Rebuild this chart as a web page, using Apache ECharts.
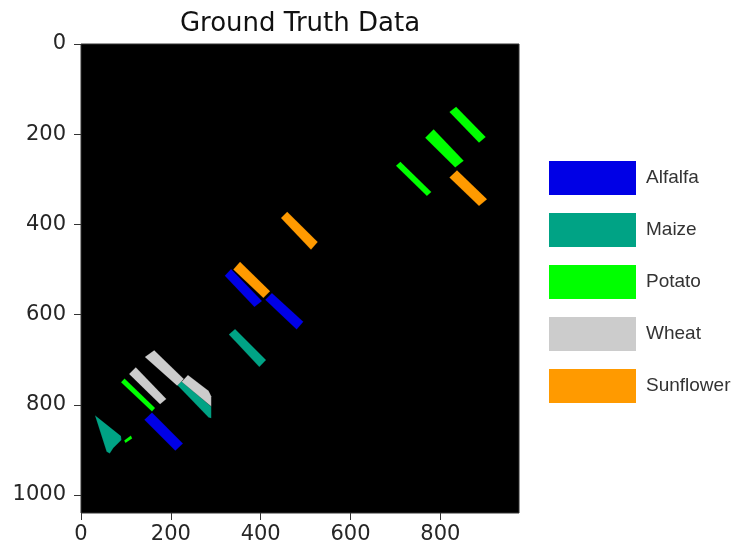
<!DOCTYPE html>
<html>
<head>
<meta charset="utf-8">
<script src="https://cdn.jsdelivr.net/npm/echarts@6/dist/echarts.min.js"></script>
<style>
  html, body { margin: 0; padding: 0; background: #fff; }
</style>
</head>
<body>
<div id="chart" style="width: 737px; height: 550px"></div>
<script>
// class names and colours
const classNames = ['Alfalfa', 'Maize', 'Potato', 'Wheat', 'Sunflower']
const classColors = ['#0000e6', '#00a385', '#00ff00', '#cccccc', '#ff9a00']

// field outlines, pixel coords [col, row] of the label image
const alfalfaFields = [
  [[320, 514], [334, 499], [403, 570], [386, 583]],
  [[410, 567], [425, 552], [495, 616], [480, 633]],
  [[141, 833], [158, 817], [227, 886], [210, 902]]
]
const maizeFields = [
  [[329, 644], [343, 632], [412, 701], [397, 716]],
  [[213, 755], [224, 746], [290, 804], [290, 830], [284, 828]],
  [[31, 823], [89, 869], [90, 878], [72, 896], [64, 908], [57, 904]]
]
const potatoFields = [
  [[820, 151], [835, 139], [901, 206], [886, 219]],
  [[766, 208], [785, 189], [852, 259], [833, 274]],
  [[701, 270], [711, 261], [780, 328], [770, 337]],
  [[89, 750], [97, 742], [165, 807], [158, 815]],
  [[96, 879], [99, 885], [114, 875], [111, 868]]
]
const wheatFields = [
  [[142, 694], [163, 679], [229, 743], [214, 758]],
  [[107, 732], [122, 717], [190, 787], [176, 799]],
  [[224, 749], [238, 734], [284, 769], [290, 781], [290, 804]]
]
const sunflowerFields = [
  [[820, 296], [837, 280], [904, 344], [886, 359]],
  [[445, 386], [459, 372], [527, 439], [512, 456]],
  [[339, 500], [354, 483], [421, 548], [406, 563]]
]

// image size and tick labels
const imageWidth = 975
const imageHeight = 1040
const xTicks = [0, 200, 400, 600, 800]
const yTicks = [0, 200, 400, 600, 800, 1000]

const allFields = [alfalfaFields, maizeFields, potatoFields, wheatFields, sunflowerFields]

const chart = echarts.init(document.getElementById('chart'))

const axisFont = {
  fontFamily: 'DejaVu Sans',
  fontSize: 21,
  color: '#262626',
  formatter: v => String(v)
}

const fieldSeries = (fields, i) => ({
  name: classNames[i],
  type: 'custom',
  coordinateSystem: 'cartesian2d',
  itemStyle: { color: classColors[i] },
  renderItem: (params, api) => {
    const pts = fields[params.dataIndex].map(p => api.coord(p))
    return {
      type: 'polygon',
      shape: { points: pts },
      style: {
        fill: classColors[i],
        stroke: 'rgba(0,0,0,0.25)',
        lineWidth: 0.6
      }
    }
  },
  data: fields.map(f => f[0])
})

const option = {
  animation: false,
  backgroundColor: '#fff',
  title: {
    text: 'Ground Truth Data',
    left: 295,
    top: 6,
    textAlign: 'center',
    textStyle: {
      fontFamily: 'DejaVu Sans',
      fontWeight: 'normal',
      fontSize: 26,
      color: '#111'
    }
  },
  grid: {
    left: 81,
    top: 44,
    width: 438,
    height: 469,
    show: true,
    backgroundColor: '#000',
    borderColor: '#333',
    borderWidth: 1
  },
  xAxis: {
    type: 'value',
    min: 0,
    max: imageWidth,
    position: 'bottom',
    splitLine: { show: false },
    axisLine: { show: false, onZero: false },
    axisTick: {
      show: true,
      length: 7,
      customValues: xTicks,
      lineStyle: { color: '#333' }
    },
    axisLabel: {
      ...axisFont,
      margin: 11,
      customValues: xTicks
    }
  },
  yAxis: {
    type: 'value',
    min: 0,
    max: imageHeight,
    inverse: true,
    splitLine: { show: false },
    axisLine: { show: false, onZero: false },
    axisTick: {
      show: true,
      length: 7,
      customValues: yTicks,
      lineStyle: { color: '#333' }
    },
    axisLabel: {
      ...axisFont,
      margin: 15,
      customValues: yTicks
    }
  },
  legend: {
    orient: 'vertical',
    left: 544,
    top: 156,
    icon: 'rect',
    itemWidth: 87,
    itemHeight: 34,
    itemGap: 18,
    data: classNames,
    textStyle: {
      fontFamily: 'Liberation Sans',
      fontSize: 19,
      color: '#333',
      padding: [0, 0, 0, 5]
    }
  },
  series: allFields.map(fieldSeries)
}

chart.setOption(option)
</script>
</body>
</html>
